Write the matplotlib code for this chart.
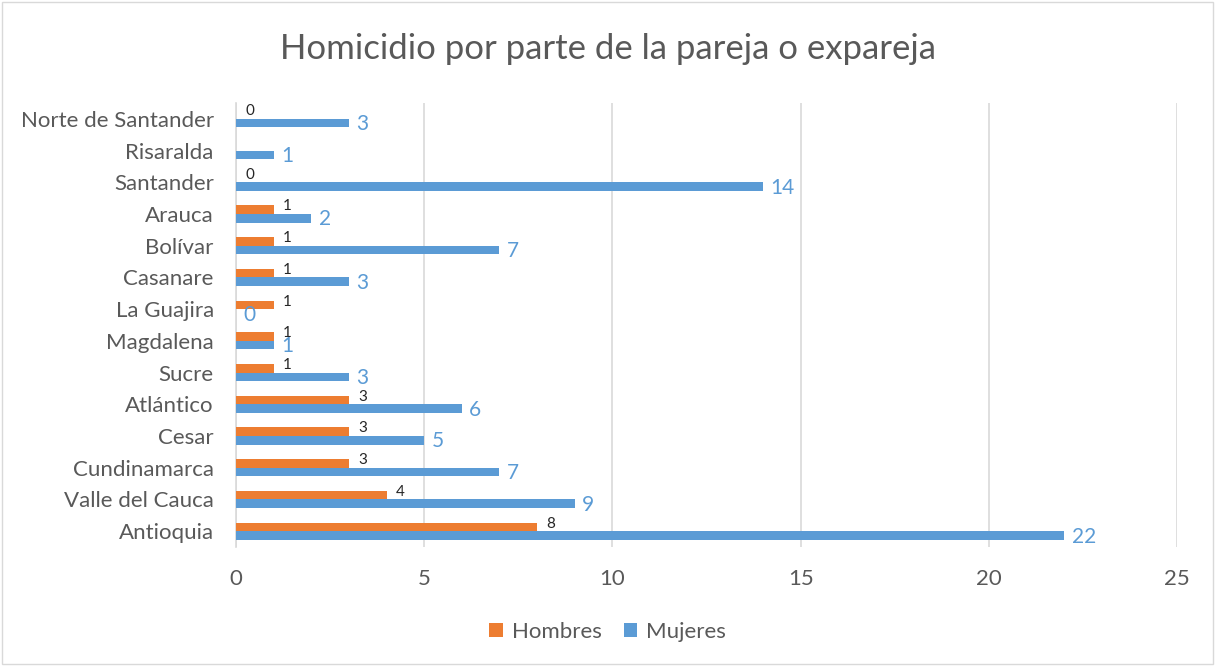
import numpy as np
import matplotlib.pyplot as plt

plt.rcParams['font.family'] = ['Lato', 'DejaVu Sans']

# datos (de abajo hacia arriba)
departamentos = ["Antioquia", "Valle del Cauca", "Cundinamarca", "Cesar", "Atlántico",
                 "Sucre", "Magdalena", "La Guajira", "Casanare", "Bolívar", "Arauca",
                 "Santander", "Risaralda", "Norte de Santander"]
hombres = [8, 4, 3, 3, 3, 1, 1, 1, 1, 1, 1, 0, None, 0]
mujeres = [22, 9, 7, 5, 6, 3, 1, 0, 3, 7, 2, 14, 1, 3]

c_h = "#ED7D31"
c_m = "#5B9BD5"
gris = "#595959"

fig = plt.figure(figsize=(12.15, 6.66), dpi=100)
ax = fig.add_axes([236 / 1215, 1 - 547 / 666, (1177 - 236) / 1215, (547 - 103) / 666])

y = np.arange(len(departamentos))
h = 0.27
h_vals = [np.nan if v is None else v for v in hombres]
ax.barh(y + h / 2, h_vals, height=h, color=c_h, label="Hombres", zorder=3)
ax.barh(y - h / 2, mujeres, height=h, color=c_m, label="Mujeres", zorder=3)

# etiquetas de datos
for i, v in enumerate(hombres):
    if v is not None:
        ax.text(v + 0.25, y[i] + 0.24, str(v), fontsize=11, color="#262626",
                ha="left", va="center", zorder=4)
for i, v in enumerate(mujeres):
    ax.text(v + 0.2, y[i] - 0.17, str(v), fontsize=15, color=c_m,
            ha="left", va="center", zorder=4)

ax.set_xlim(0, 25)
ax.set_ylim(-0.5, len(departamentos) - 0.5)
ax.set_xticks([0, 5, 10, 15, 20, 25])
ax.set_yticks(y)
ax.set_yticklabels(departamentos)
ax.tick_params(axis="both", length=0, labelsize=16, colors=gris)
ax.tick_params(axis="x", pad=16)
ax.tick_params(axis="y", pad=16)
ax.grid(axis="x", color="#D9D9D9", linewidth=1.2, zorder=0)
for s in ["top", "right", "bottom"]:
    ax.spines[s].set_visible(False)
ax.spines["left"].set_color("#D9D9D9")
ax.spines["left"].set_linewidth(1.2)

fig.text(0.5, 1 - 49 / 666, "Homicidio por parte de la pareja o expareja",
         ha="center", va="center", fontsize=25, color=gris)

fig.legend(loc="center", bbox_to_anchor=(0.5, 1 - 632 / 666), ncol=2, frameon=False,
           fontsize=16, labelcolor=gris, handlelength=0.6, handleheight=0.6,
           columnspacing=1.0, handletextpad=0.4)

fig.patches.append(plt.Rectangle((0.002, 0.003), 0.996, 0.994, transform=fig.transFigure,
                                 fill=False, edgecolor="#D9D9D9", linewidth=1))

fig.savefig("out.png", dpi=100)
